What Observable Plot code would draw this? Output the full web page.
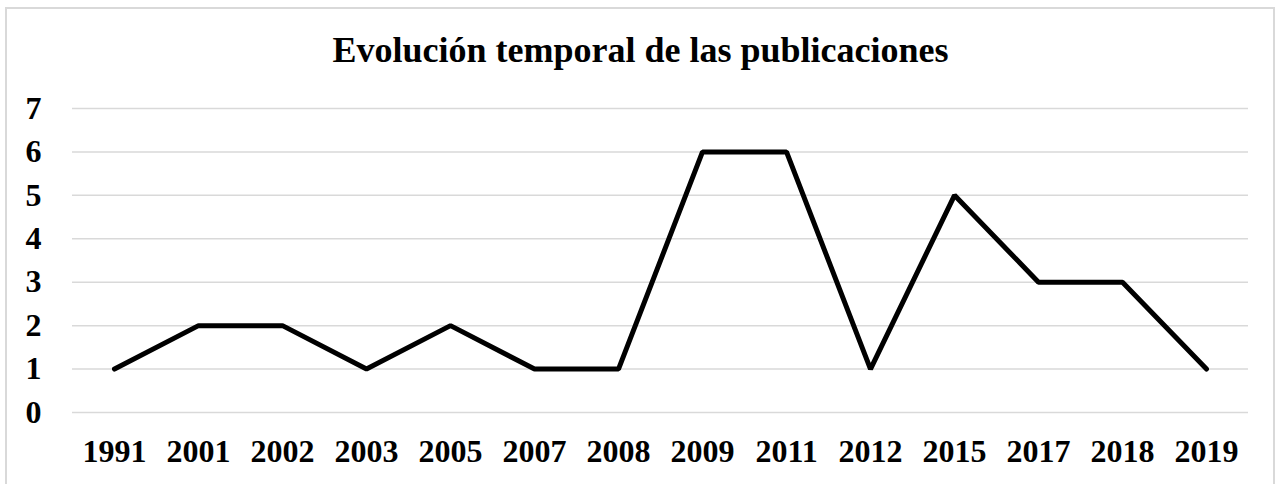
<!DOCTYPE html>
<html>
<head>
<meta charset="utf-8">
<script src="https://cdn.jsdelivr.net/npm/d3@7"></script>
<script src="https://cdn.jsdelivr.net/npm/@observablehq/plot@0.6"></script>
<style>
  html, body { margin: 0; padding: 0; background: #fff; }
  #frame { position: absolute; left: 5px; top: 7px; width: 1270px; height: 500px; border: 2px solid #d9d9d9; box-sizing: border-box; }
  #title { position: absolute; left: 0; top: 0; width: 1281px; height: 90px; text-align: center;
           font-family: "Liberation Serif", "Times New Roman", serif; font-weight: bold; font-size: 36px;
           line-height: 1; padding-top: 32px; box-sizing: border-box; color: #000; }
  #chart { position: absolute; left: 0; top: 90px; }
</style>
</head>
<body>
<div id="frame"></div>
<div id="title">Evolución temporal de las publicaciones</div>
<div id="chart"></div>
<script>
const years = ["1991","2001","2002","2003","2005","2007","2008","2009","2011","2012","2015","2017","2018","2019"];
const counts = [1,2,2,1,2,1,1,6,6,1,5,3,3,1];
const yTicks = [0,1,2,3,4,5,6,7];

const data = years.map((y, i) => ({year: y, n: counts[i]}));

const chart = Plot.plot({
  width: 1281,
  height: 394,
  marginTop: 18,
  marginBottom: 72,
  marginLeft: 72,
  marginRight: 33,
  style: {fontFamily: "'Liberation Serif', 'Times New Roman', serif", fontWeight: "bold", fontSize: "32px", color: "#000", background: "transparent"},
  x: {type: "point", domain: years, padding: 0.5, label: null},
  y: {domain: [0, 7], label: null},
  marks: [
    Plot.ruleY(yTicks, {stroke: "#d9d9d9", strokeWidth: 1.5}),
    Plot.axisY(yTicks, {tickSize: 0, tickPadding: 31, label: null, fontSize: 32, fontWeight: "bold"}),
    Plot.axisX(years, {tickSize: 0, tickPadding: 27, label: null, fontSize: 32, fontWeight: "bold"}),
    Plot.line(data, {x: "year", y: "n", stroke: "#000", strokeWidth: 5, strokeLinejoin: "miter"})
  ]
});
document.getElementById("chart").appendChild(chart);
</script>
</body>
</html>
